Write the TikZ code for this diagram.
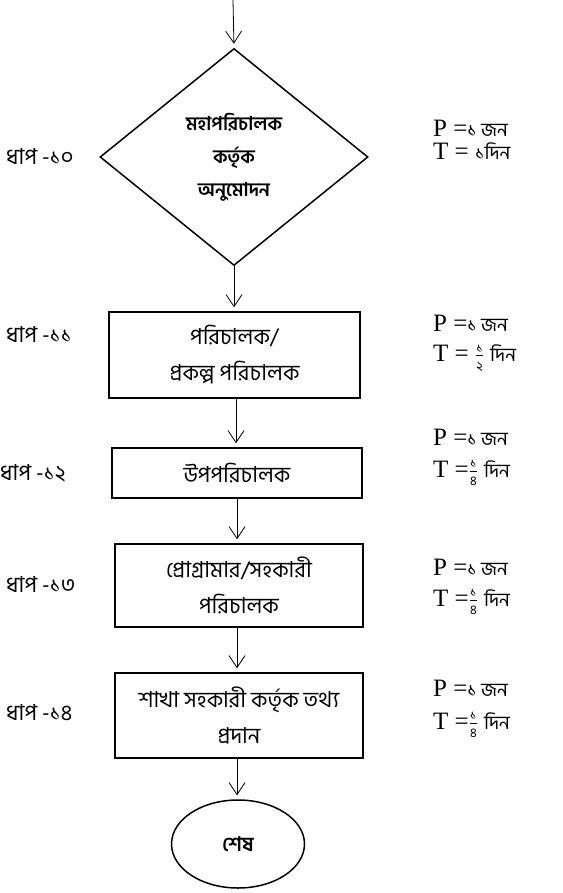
\documentclass[tikz,border=0pt]{standalone}
\usepackage{fontspec}
\setmainfont{Liberation Serif}
\newfontfamily\bn[Script=Bengali]{Hind Siliguri}
\usetikzlibrary{shapes.geometric,arrows.meta}
\newcommand{\bnfrac}[2]{$\frac{\mbox{\bn\fontsize{13}{13}\selectfont #1}}{\mbox{\bn\fontsize{13}{13}\selectfont #2}}$}
\newcommand{\lat}{\fontsize{25}{25}\selectfont}
\newcommand{\bns}{\bn\fontsize{19}{19}\selectfont}
\begin{document}
\begin{tikzpicture}[x=1pt,y=-1pt,
  shapeline/.style={draw, line width=1.5pt, inner sep=0pt, align=center},
  stepbox/.style={shapeline, font=\bn\fontsize{22}{36}\selectfont},
  arr/.style={-{Straight Barb[length=12pt,width=16pt]}, line width=0.8pt, shorten >=4pt},
  steplabel/.style={anchor=west, inner sep=0pt, font=\bn\fontsize{22}{22}\selectfont},
  pt/.style={anchor=west, inner sep=0pt}]
\useasboundingbox (0,0) rectangle (562,893);
\fill[white] (0,0) rectangle (562,893);

\coordinate (start) at (233,0);
\node[shapeline, shape=diamond, aspect=1.235, minimum width=268pt, minimum height=217pt,
  font=\bn\bfseries\fontsize{19}{33}\selectfont] (d) at (234,157)
  {মহাপরিচালক\\কর্তৃক\\অনুমোদন};
\node[stepbox, minimum width=251pt, minimum height=86pt] (b1) at (234.5,355)
  {পরিচালক/\\প্রকল্প পরিচালক};
\node[stepbox, minimum width=250pt, minimum height=50pt] (b2) at (237,473)
  {উপপরিচালক};
\node[stepbox, minimum width=248pt, minimum height=83pt] (b3) at (239,585.5)
  {প্রোগ্রামার/সহকারী\\পরিচালক};
\node[stepbox, minimum width=248pt, minimum height=85pt] (b4) at (239,715.5)
  {শাখা সহকারী কর্তৃক তথ্য\\প্রদান};
\node[shapeline, shape=ellipse, minimum width=133pt, minimum height=88pt,
  font=\bn\bfseries\fontsize{20}{20}\selectfont] (e) at (238,844) {শেষ};

\draw[arr] (start) -- (d.north);
\draw[arr] (d.south) -- (d.south |- b1.north);
\draw[arr] (b1.south -| 236,0) coordinate (c1) -- (c1 |- b2.north);
\draw[arr] (b2.south) -- (b2.south |- b3.north);
\draw[arr] (b3.south -| 237,0) coordinate (c3) -- (c3 |- b4.north);
\draw[arr] (b4.south -| 237,0) coordinate (c4) -- (c4 |- e.north);

\node[steplabel] (s10) at (6,157) {ধাপ -১০};
\node[steplabel] (s11) at (6,335) {ধাপ -১১};
\node[steplabel] (s12) at (0,473) {ধাপ -১২};
\node[steplabel] (s13) at (6,585) {ধাপ -১৩};
\node[steplabel] (s14) at (6,713) {ধাপ -১৪};

\node[pt] (p10) at (433,128) {\lat P =\bns১ জন};
\node[pt] (t10) at (433,151) {\lat T = \bns১দিন};
\node[pt] (p11) at (433,323) {\lat P =\bns১ জন};
\node[pt] (t11) at (433,358) {\lat T = \bnfrac{১}{২} \bns দিন};
\node[pt] (p12) at (433,437) {\lat P =\bns১ জন};
\node[pt] (t12) at (433,473) {\lat T =\bnfrac{১}{৪} \bns দিন};
\node[pt] (p13) at (433,567) {\lat P =\bns১ জন};
\node[pt] (t13) at (433,602) {\lat T =\bnfrac{১}{৪} \bns দিন};
\node[pt] (p14) at (433,688) {\lat P =\bns১ জন};
\node[pt] (t14) at (433,725) {\lat T =\bnfrac{১}{৪} \bns দিন};
\end{tikzpicture}
\end{document}
